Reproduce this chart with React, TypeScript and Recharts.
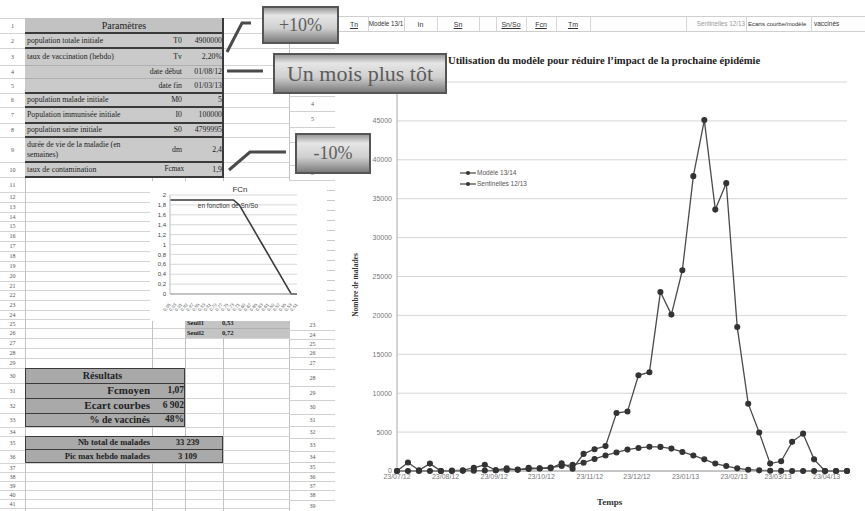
import React from "react";
import { CartesianGrid, Legend, Line, LineChart, XAxis, YAxis } from "recharts";

const SERIF = '"Liberation Serif", "DejaVu Serif", serif';
const SANS = '"Liberation Sans", Arial, sans-serif';

// semaines de surveillance (lundis)
const semaines = [
  "23/07/12", "30/07/12", "06/08/12", "13/08/12", "20/08/12", "27/08/12", "03/09/12",
  "10/09/12", "17/09/12", "24/09/12", "01/10/12", "08/10/12", "15/10/12", "22/10/12",
  "29/10/12", "05/11/12", "12/11/12", "19/11/12", "26/11/12", "03/12/12", "10/12/12",
  "17/12/12", "24/12/12", "31/12/12", "07/01/13", "14/01/13", "21/01/13", "28/01/13",
  "04/02/13", "11/02/13", "18/02/13", "25/02/13", "04/03/13", "11/03/13", "18/03/13",
  "25/03/13", "01/04/13", "08/04/13", "15/04/13", "22/04/13", "29/04/13", "06/05/13",
];

const modele1314 = [
  0, 0, 0, 0, 0, 0, 20, 40, 60, 90, 130, 180, 250, 330, 450, 650, 800, 1070, 1550, 2000, 2380,
  2750, 2960, 3109, 3100, 2880, 2450, 2000, 1500, 960, 640, 340, 170, 85, 30, 10, 0, 0, 0, 0, 0, 0,
];

const sentinelles1213 = [
  0, 1100, 100, 950, 0, 50, 100, 400, 800, 100, 350, 150, 400, 350, 350, 1000, 300, 2200, 2800,
  3200, 7450, 7650, 12300, 12700, 23000, 20100, 25800, 37900, 45100, 33600, 37000, 18500, 8650,
  4950, 950, 1250, 3750, 4800, 1500, 0, 0, 0,
];

const graduationsDates = [
  "23/07/12", "23/08/12", "23/09/12", "23/10/12", "23/11/12",
  "23/12/12", "23/01/13", "23/02/13", "23/03/13", "23/04/13",
];
const graduationsMalades = [0, 5000, 10000, 15000, 20000, 25000, 30000, 35000, 40000, 45000];

// FCn en fonction de Sn/So
const rapportsSnSo = [
  "0,95", "0,93", "0,91", "0,89", "0,87", "0,85", "0,83", "0,81", "0,79", "0,77", "0,75", "0,73",
  "0,71", "0,69", "0,67", "0,65", "0,63", "0,61", "0,59", "0,57", "0,55", "0,53", "0,51",
];
const valeursFcn = [
  1.9, 1.9, 1.9, 1.9, 1.9, 1.9, 1.9, 1.9, 1.9, 1.9, 1.9, 1.9,
  1.8, 1.6, 1.4, 1.2, 1.0, 0.8, 0.6, 0.4, 0.2, 0, 0,
];
const graduationsFcn = [0, 0.2, 0.4, 0.6, 0.8, 1, 1.2, 1.4, 1.6, 1.8, 2];

const enJours = (d: string) => {
  const [j, m, a] = d.split("/").map(Number);
  return Date.UTC(2000 + a, m - 1, j) / 86400000;
};

const donneesEpidemie = semaines.map((s, i) => ({
  jour: enJours(s),
  modele: modele1314[i],
  sentinelles: sentinelles1213[i],
}));
const donneesFcn = rapportsSnSo.map((x, i) => ({ x, fcn: valeursFcn[i] }));

// bords des lignes de la feuille (volet gauche)
const lignesGauche = [
  18, 33, 48, 65, 78, 93, 107, 123, 137, 162, 177, 192, 202, 212, 221, 231, 241, 251, 261, 271,
  281, 290, 300, 310, 319, 328, 338, 348, 358, 368, 383, 398, 413, 427, 436, 450, 463, 472, 481,
  490, 499, 508,
];
// volet droit : numéro et bords de ligne
const lignesDroite: [string, number, number][] = [
  ["4", 96, 111], ["5", 111, 127], ["6", 127, 142], ["7", 142, 165], ["8", 165, 180],
  ["23", 320, 330], ["24", 330, 339], ["25", 339, 348], ["26", 348, 357], ["27", 357, 369],
  ["28", 369, 386], ["29", 386, 400], ["30", 400, 414], ["31", 414, 426], ["32", 426, 438],
  ["33", 438, 451], ["34", 451, 462], ["35", 462, 472], ["36", 472, 481], ["37", 481, 490],
  ["38", 490, 500], ["39", 500, 511],
];

const enTetes: [string, number, number, boolean][] = [
  ["Tn", 340, 368, true], ["Modèle 13/1", 368, 404, false], ["In", 404, 437, false],
  ["Sn", 437, 479, true], ["Sn/So", 496, 526, true], ["Fcn", 526, 556, true],
  ["Tm", 556, 590, true],
];

type CaseProps = {
  x: number; y: number; w: number; h: number;
  align?: "left" | "right" | "center";
  taille?: number; gras?: boolean; style?: React.CSSProperties;
  children?: React.ReactNode;
};

function Case({ x, y, w, h, align = "left", taille = 7.8, gras = false, style, children }: CaseProps) {
  return (
    <div
      style={{
        position: "absolute", left: x, top: y, width: w, height: h, boxSizing: "border-box",
        display: "flex", alignItems: "center",
        justifyContent: align === "right" ? "flex-end" : align === "center" ? "center" : "flex-start",
        fontSize: taille, fontWeight: gras ? 700 : 400, fontFamily: SERIF, color: "#222",
        overflow: "hidden", whiteSpace: "nowrap", lineHeight: 1, ...style,
      }}
    >
      {children}
    </div>
  );
}

function Trait({ x, y, w, h, c }: { x: number; y: number; w: number; h: number; c: string }) {
  return <div style={{ position: "absolute", left: x, top: y, width: w, height: h, background: c }} />;
}

function Bulle({ x, y, w, h, taille, texte }: { x: number; y: number; w: number; h: number; taille: number; texte: string }) {
  return (
    <div
      style={{
        position: "absolute", left: x, top: y, width: w, height: h, boxSizing: "border-box",
        border: "2px solid #555", zIndex: 5,
        background: "linear-gradient(to bottom, #9a9a9a 0%, #e6e6e6 22%, #cfcfcf 60%, #7c7c7c 100%)",
        display: "flex", alignItems: "center", justifyContent: "center",
        fontFamily: SERIF, fontSize: taille, color: "#5c5c5c", whiteSpace: "nowrap",
      }}
    >
      {texte}
    </div>
  );
}

function LegendeEpidemie({ payload }: any) {
  return (
    <div style={{ fontFamily: SANS, fontSize: 6.5, color: "#555" }}>
      {(payload || []).map((e: any) => (
        <div key={e.value} style={{ display: "flex", alignItems: "center", height: 11 }}>
          <svg width={16} height={6}>
            <line x1={0} y1={3} x2={16} y2={3} stroke="#444" strokeWidth={1.2} />
            <circle cx={8} cy={3} r={2} fill="#333" />
          </svg>
          <span style={{ marginLeft: 1 }}>{e.value}</span>
        </div>
      ))}
    </div>
  );
}

function TickFcn({ x, y, payload }: any) {
  return (
    <text x={x} y={y + 2} transform={`rotate(-50 ${x} ${y + 2})`} textAnchor="end"
      fontSize={4.5} fill="#666" fontFamily={SANS} dominantBaseline="middle">
      {payload.value}
    </text>
  );
}

function GraphiqueFcn() {
  return (
    <div style={{ position: "absolute", left: 150, top: 181, width: 152, height: 140, background: "#fff", zIndex: 2 }}>
      <div style={{ position: "absolute", left: 0, top: 4, width: 180, textAlign: "center", fontFamily: SANS, fontSize: 8, color: "#333" }}>
        FCn
      </div>
      <div style={{ position: "absolute", left: 40, top: 21, width: 76, textAlign: "center", fontFamily: SANS, fontSize: 6.5, color: "#333", zIndex: 3, whiteSpace: "nowrap" }}>
        en fonction de Sn/So
      </div>
      <LineChart width={152} height={140} data={donneesFcn} margin={{ top: 14, right: 5, bottom: 0, left: 0 }}>
        <CartesianGrid vertical={false} stroke="#d8d8d8" />
        <XAxis dataKey="x" interval={0} height={27} tick={<TickFcn />} tickLine={false} axisLine={{ stroke: "#999" }} />
        <YAxis
          domain={[0, 2]} ticks={graduationsFcn} interval={0} width={20} tickSize={2} tickLine={false}
          axisLine={{ stroke: "#bbb" }}
          tickFormatter={(v: number) => String(v).replace(".", ",")}
          tick={{ fontSize: 6, fill: "#444", fontFamily: SANS }}
        />
        <Line dataKey="fcn" stroke="#3a3a3a" strokeWidth={1.6} dot={false} isAnimationActive={false} />
      </LineChart>
    </div>
  );
}

function GraphiqueEpidemie() {
  const ticks = graduationsDates.map(enJours);
  return (
    <div style={{ position: "absolute", left: 335, top: 33, width: 530, height: 478, background: "#fff", zIndex: 1 }}>
      <div style={{ position: "absolute", left: 113, top: 22, fontFamily: SERIF, fontWeight: 700, fontSize: 10.6, color: "#222", whiteSpace: "nowrap" }}>
        Utilisation du modèle pour réduire l’impact de la prochaine épidémie
      </div>
      <div style={{ position: "absolute", left: 20, top: 252, fontFamily: SERIF, fontWeight: 700, fontSize: 7.5, color: "#333", whiteSpace: "nowrap", transform: "translate(-50%, -50%) rotate(-90deg)" }}>
        Nombre de malades
      </div>
      <div style={{ position: "absolute", left: 262, top: 464, fontFamily: SERIF, fontWeight: 700, fontSize: 9, color: "#333" }}>
        Temps
      </div>
      <LineChart width={530} height={478} data={donneesEpidemie} margin={{ top: 49, right: 18, bottom: 15, left: 0 }}>
        <CartesianGrid vertical={false} stroke="#d6d6d6" />
        <XAxis
          dataKey="jour" type="number" domain={[enJours(semaines[0]), enJours(semaines[semaines.length - 1])]}
          ticks={ticks} tickFormatter={(v: number) => graduationsDates.find((d) => enJours(d) === v) ?? ""}
          tick={{ fontSize: 7, fill: "#777", fontFamily: SANS }} tickLine={false} tickSize={0} tickMargin={3}
          axisLine={{ stroke: "#a0a0a0" }} height={25} interval={0}
        />
        <YAxis
          domain={[0, 50000]} ticks={graduationsMalades} width={62} tickSize={3} tickLine={false}
          tick={{ fontSize: 7, fill: "#777", fontFamily: SANS }} axisLine={{ stroke: "#a8a8a8" }}
        />
        <YAxis yAxisId="bord" orientation="right" width={0} tick={false} tickLine={false} axisLine={{ stroke: "#d0d0d0" }} />
        <Legend layout="vertical" align="center" verticalAlign="middle" wrapperStyle={{ left: 125, top: 134, width: 90 }} content={<LegendeEpidemie />} />
        <Line dataKey="modele" name="Modèle 13/14" stroke="#4a4a4a" strokeWidth={1.3}
          dot={{ r: 2.4, fill: "#333", stroke: "#333" }} isAnimationActive={false} />
        <Line dataKey="sentinelles" name="Sentinelles 12/13" stroke="#4a4a4a" strokeWidth={1.3}
          dot={{ r: 2.4, fill: "#333", stroke: "#333" }} isAnimationActive={false} />
      </LineChart>
    </div>
  );
}

export default function App() {
  const gris = "#cacaca";
  const fonce = "#3a3a3a";
  return (
    <div style={{ position: "absolute", left: 0, top: 0, width: 865, height: 511, overflow: "hidden", background: "#fff", fontFamily: SERIF }}>
      {/* quadrillage du volet gauche */}
      {lignesGauche.slice(0, -1).map((y, i) => (
        <Case key={"n" + i} x={0} y={y} w={25} h={lignesGauche[i + 1] - y} align="center" taille={6} style={{ color: "#555" }}>
          {i + 1}
        </Case>
      ))}
      {lignesGauche.map((y, i) => (
        <Trait key={"h" + i} x={0} y={y} w={289} h={1} c="#d4d4d4" />
      ))}
      {[25, 152, 185, 223, 289, 335].map((x) => (
        <Trait key={"v" + x} x={x} y={x > 280 ? 33 : 18} w={1} h={493} c="#c2c2c2" />
      ))}

      {/* volet droit : numéros de ligne */}
      {lignesDroite.map(([n, y0, y1]) => (
        <React.Fragment key={"d" + n}>
          <Case x={290} y={y0} w={45} h={y1 - y0} align="center" taille={6} style={{ color: "#555" }}>{n}</Case>
          <Trait x={289} y={y1} w={46} h={1} c="#d0d0d0" />
        </React.Fragment>
      ))}
      {[48, 96].map((y) => <Trait key={"dh" + y} x={289} y={y} w={46} h={1} c="#d0d0d0" />)}
      {[190, 200, 210, 220, 230, 240, 250, 260, 270, 280, 290, 300, 310].map((y) => (
        <Trait key={"dt" + y} x={327} y={y} w={8} h={1} c="#c8c8c8" />
      ))}

      {/* ligne d'en-têtes du tableau de calcul */}
      <Trait x={335} y={16} w={530} h={1} c="#cfcfcf" />
      <Trait x={335} y={31} w={530} h={1} c="#cfcfcf" />
      {[368, 404, 437, 479, 496, 526, 556, 590, 686, 746, 811].map((x) => (
        <Trait key={"e" + x} x={x} y={16} w={1} h={15} c="#d6d6d6" />
      ))}
      {enTetes.map(([t, x0, x1, souligne]) => (
        <Case key={t} x={x0} y={17} w={x1 - x0} h={14} align="center" taille={t.length > 6 ? 6.3 : 7}
          style={{ fontFamily: SANS, color: "#333", textDecoration: souligne ? "underline" : "none" }}>
          {t}
        </Case>
      ))}
      <Case x={686} y={17} w={60} h={14} align="right" taille={6.3} style={{ fontFamily: SANS, color: "#999", paddingRight: 1 }}>Sentinelles 12/13</Case>
      <Case x={747} y={17} w={64} h={14} align="left" taille={6} style={{ fontFamily: SANS, color: "#333", paddingLeft: 1 }}>Ecarts courbe/modèle</Case>
      <Case x={812} y={17} w={53} h={14} align="left" taille={6.5} style={{ fontFamily: SANS, color: "#333", paddingLeft: 2 }}>vaccinés</Case>

      {/* tableau des paramètres */}
      <Case x={25} y={18} w={198} h={15} align="center" taille={10} style={{ background: "#c2c2c2" }}>Paramètres</Case>
      <div style={{ position: "absolute", left: 25, top: 33, width: 198, height: 144, background: gris }} />
      {[33, 48, 93, 107, 123, 137, 162, 177].map((y) => (
        <Trait key={"p" + y} x={25} y={y - 1} w={198} h={2} c={fonce} />
      ))}
      {[65, 78].map((y) => <Trait key={"pl" + y} x={25} y={y} w={198} h={1} c="#b0b0b0" />)}
      <Trait x={222} y={18} w={2} h={160} c={fonce} />
      <Case x={27} y={33} w={125} h={15}>population totale initiale</Case>
      <Case x={152} y={33} w={30} h={15} align="right">T0</Case>
      <Case x={185} y={33} w={37} h={15} align="right">4900000</Case>
      <Case x={27} y={48} w={125} h={17}>taux de vaccination (hebdo)</Case>
      <Case x={152} y={48} w={30} h={17} align="right">Tv</Case>
      <Case x={185} y={48} w={37} h={17} align="right">2,20%</Case>
      <Case x={110} y={65} w={72} h={13} align="right">date début</Case>
      <Case x={185} y={65} w={37} h={13} align="right">01/08/12</Case>
      <Case x={110} y={78} w={72} h={15} align="right">date fin</Case>
      <Case x={185} y={78} w={37} h={15} align="right">01/03/13</Case>
      <Case x={27} y={93} w={125} h={14}>population malade initiale</Case>
      <Case x={152} y={93} w={30} h={14} align="right">M0</Case>
      <Case x={185} y={93} w={37} h={14} align="right">5</Case>
      <Case x={27} y={107} w={125} h={16}>Population immunisée initiale</Case>
      <Case x={152} y={107} w={30} h={16} align="right">I0</Case>
      <Case x={185} y={107} w={37} h={16} align="right">100000</Case>
      <Case x={27} y={123} w={125} h={14}>population saine initiale</Case>
      <Case x={152} y={123} w={30} h={14} align="right">S0</Case>
      <Case x={185} y={123} w={37} h={14} align="right">4799995</Case>
      <Case x={27} y={137} w={125} h={25} style={{ whiteSpace: "normal", lineHeight: 1.2 }}>
        durée de vie de la maladie (en<br />semaines)
      </Case>
      <Case x={152} y={137} w={30} h={25} align="right">dm</Case>
      <Case x={185} y={137} w={37} h={25} align="right">2,4</Case>
      <Case x={27} y={162} w={125} h={15}>taux de contamination</Case>
      <Case x={152} y={162} w={32} h={15} align="right" taille={7.2}>Fcmax</Case>
      <Case x={185} y={162} w={37} h={15} align="right">1,9</Case>

      <GraphiqueFcn />

      {/* seuils */}
      <div style={{ position: "absolute", left: 185, top: 319, width: 104, height: 19, background: "#c4c4c4" }} />
      <Trait x={185} y={328} w={104} h={1} c="#b0b0b0" />
      <Case x={187} y={319} w={36} h={9} taille={6.5} gras>Seuil1</Case>
      <Case x={222} y={319} w={40} h={9} taille={6.5} gras>0,53</Case>
      <Case x={187} y={328} w={36} h={10} taille={6.5} gras>Seuil2</Case>
      <Case x={222} y={328} w={40} h={10} taille={6.5} gras>0,72</Case>

      {/* résultats */}
      <div style={{ position: "absolute", left: 25, top: 368, width: 160, height: 59, background: "#a9a9a9", boxSizing: "border-box", border: `1px solid ${fonce}` }} />
      {[383, 398, 413].map((y) => <Trait key={"r" + y} x={25} y={y} w={160} h={1} c={fonce} />)}
      <Case x={25} y={368} w={155} h={15} align="center" taille={10} style={{ fontWeight: 600 }}>Résultats</Case>
      <Case x={25} y={383} w={125} h={15} align="right" taille={11} gras>Fcmoyen</Case>
      <Case x={152} y={383} w={32} h={15} align="right" taille={9.5} gras>1,07</Case>
      <Case x={25} y={398} w={125} h={15} align="right" taille={11} gras>Ecart courbes</Case>
      <Case x={150} y={398} w={34} h={15} align="right" taille={9.5} gras>6 902</Case>
      <Case x={25} y={413} w={125} h={14} align="right" taille={10} gras>% de vaccinés</Case>
      <Case x={152} y={413} w={32} h={14} align="right" taille={9.5} gras>48%</Case>

      <div style={{ position: "absolute", left: 25, top: 436, width: 198, height: 27, background: "#a9a9a9", boxSizing: "border-box", border: `1px solid ${fonce}` }} />
      <Trait x={25} y={449} w={198} h={1} c={fonce} />
      <Case x={25} y={436} w={125} h={13} align="right" taille={8.5} gras>Nb total de malades</Case>
      <Case x={152} y={436} w={71} h={13} align="center" taille={8.5} gras>33 239</Case>
      <Case x={25} y={450} w={125} h={13} align="right" taille={8.5} gras>Pic max hebdo malades</Case>
      <Case x={152} y={450} w={71} h={13} align="center" taille={8.5} gras>3 109</Case>

      <GraphiqueEpidemie />

      {/* bulles de scénario et leurs liaisons */}
      <svg width={865} height={511} style={{ position: "absolute", left: 0, top: 0, zIndex: 4 }}>
        <polyline points="227,52 242,23 251,23" fill="none" stroke="#4a4a4a" strokeWidth={3} />
        <line x1={227} y1={71} x2={263} y2={71} stroke="#4a4a4a" strokeWidth={3} />
        <polyline points="229,170 250,152 286,152" fill="none" stroke="#4a4a4a" strokeWidth={3} />
      </svg>
      <Bulle x={262} y={6} w={77} h={38} taille={18} texte="+10%" />
      <Bulle x={273} y={53} w={174} h={41} taille={22} texte="Un mois plus tôt" />
      <Bulle x={295} y={133} w={76} h={41} taille={18} texte="-10%" />
    </div>
  );
}
